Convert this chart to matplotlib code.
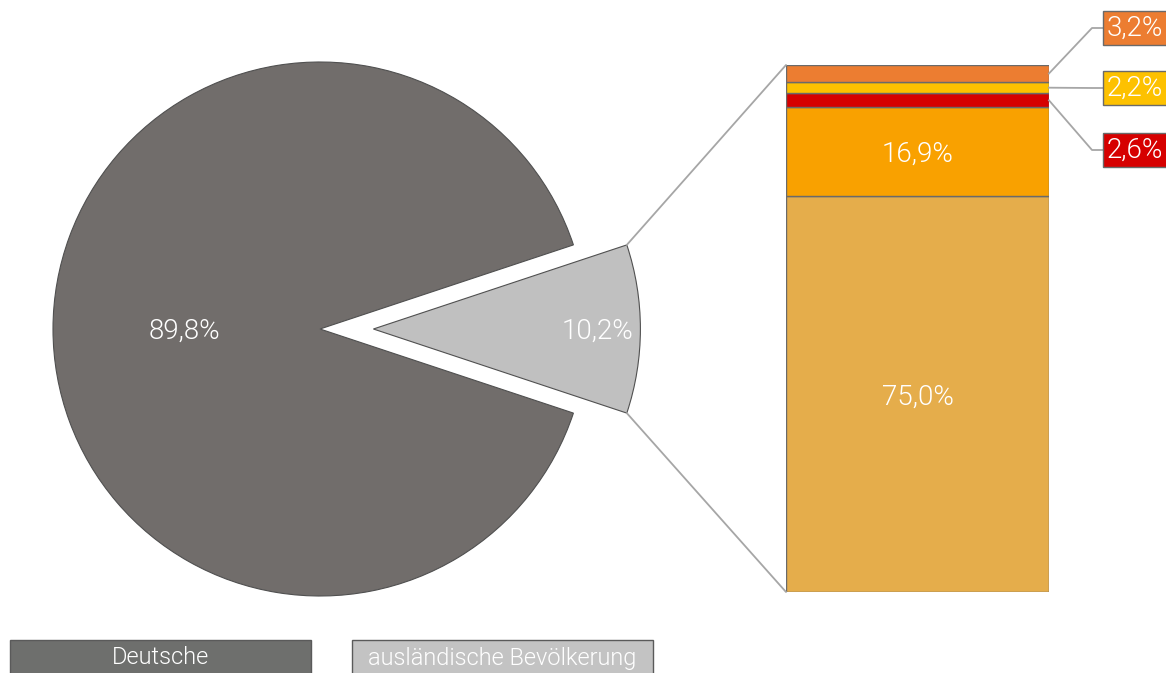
import numpy as np
import matplotlib.pyplot as plt
from matplotlib.patches import ConnectionPatch, Rectangle

plt.rcParams['font.family'] = ['Roboto', 'DejaVu Sans']
TXT_WEIGHT = 300

# population split
pie_labels = ['Deutsche', 'ausländische Bevölkerung']
pie_values = [89.8, 10.2]
pie_colors = ['#716d6b', '#c0c0c0']
legend_colors = ['#6e6f6d', '#c3c3c3']

# breakdown of the foreign population (bottom to top)
bar_values = [75.0, 16.9, 2.6, 2.2, 3.2]
bar_colors = ['#e5ad4b', '#f9a100', '#d60000', '#fdc100', '#ec7d31']

W, H = 1166, 673
fig = plt.figure(figsize=(W / 100, H / 100), dpi=100)

# pie: one radius unit = 267 px, centre at (320, 329)
r_px = 267
cx, cy = 320, H - 329
ax_pie = fig.add_axes([(cx - 1.2 * r_px) / W, (cy - 1.2 * r_px) / H,
                       2.6 * r_px / W, 2.4 * r_px / H])
start = pie_values[1] / 100 * 360 / 2
wedges, _ = ax_pie.pie(pie_values, colors=pie_colors, startangle=start,
                       explode=[0, 0.2], radius=1,
                       wedgeprops=dict(edgecolor='#505050', linewidth=0.8))
ax_pie.set_xlim(-1.2, 1.4)
ax_pie.set_ylim(-1.2, 1.2)
ax_pie.set_aspect('equal')
ax_pie.axis('off')

for w, v, dist in zip(wedges, pie_values, [0.506, 0.84]):
    mid = np.deg2rad((w.theta1 + w.theta2) / 2)
    x0, y0 = w.center
    ax_pie.text(x0 + dist * np.cos(mid), y0 + dist * np.sin(mid) - 0.008,
                f'{v:.1f}%'.replace('.', ','), color='white', fontsize=20,
                fontweight=TXT_WEIGHT, ha='center', va='center')

# stacked bar
total = sum(bar_values)
bx0, bx1, by_top, by_bot = 786, 1049, 65, 592
ax_bar = fig.add_axes([bx0 / W, (H - by_bot) / H, (bx1 - bx0) / W, (by_bot - by_top) / H])
bottom = 0
mids = []
for v, c in zip(bar_values, bar_colors):
    ax_bar.bar(0.5, v, width=1, bottom=bottom, color=c, edgecolor='#6a6a6a', linewidth=1)
    mids.append(bottom + v / 2)
    bottom += v
ax_bar.set_xlim(0, 1)
ax_bar.set_ylim(0, total)
ax_bar.axis('off')

for v, m in zip(bar_values[:2], mids[:2]):
    ax_bar.text(0.5, m - 0.5, f'{v:.1f}%'.replace('.', ','), color='white', fontsize=20,
                fontweight=TXT_WEIGHT, ha='center', va='center')

# lines joining the small wedge to the bar
w = wedges[1]
for ang, yb in [(w.theta2, total), (w.theta1, 0)]:
    a = np.deg2rad(ang)
    p = (w.center[0] + np.cos(a), w.center[1] + np.sin(a))
    con = ConnectionPatch(xyA=p, coordsA=ax_pie.transData, xyB=(0, yb),
                          coordsB=ax_bar.transData, color='#a6a6a6', linewidth=1.3)
    fig.add_artist(con)

# callouts for the thin segments
px_per_unit_x = bx1 - bx0
px_per_unit_y = (by_bot - by_top) / total
elbow_x = (1092 - bx0) / px_per_unit_x
line_end = (1104 - bx0) / px_per_unit_x
text_x = (1107 - bx0) / px_per_unit_x
label_y_px = {2: 150, 3: 88, 4: 28}
for i in [4, 3, 2]:
    ly = (by_bot - label_y_px[i]) / px_per_unit_y
    ax_bar.plot([1, elbow_x, line_end], [mids[i], ly, ly], color='#a6a6a6',
                linewidth=1.3, clip_on=False)
    ax_bar.text(text_x, ly, f'{bar_values[i]:.1f}%'.replace('.', ','), color='white',
                fontsize=20, fontweight=TXT_WEIGHT, ha='left', va='center',
                bbox=dict(boxstyle='square,pad=0.14', facecolor=bar_colors[i],
                          edgecolor='#6a6a6a', linewidth=1))

# legend boxes along the bottom
for x0, lab, c in zip([10, 352], pie_labels, legend_colors):
    fig.add_artist(Rectangle((x0 / W, (H - 676) / H), 301 / W, 36 / H,
                             transform=fig.transFigure, facecolor=c,
                             edgecolor='#5a5a5a', linewidth=1))
    fig.text((x0 + 150.5) / W, (H - 658) / H, lab, color='white', fontsize=17,
             fontweight=TXT_WEIGHT, ha='center', va='center')

fig.savefig('out.png', dpi=100)
